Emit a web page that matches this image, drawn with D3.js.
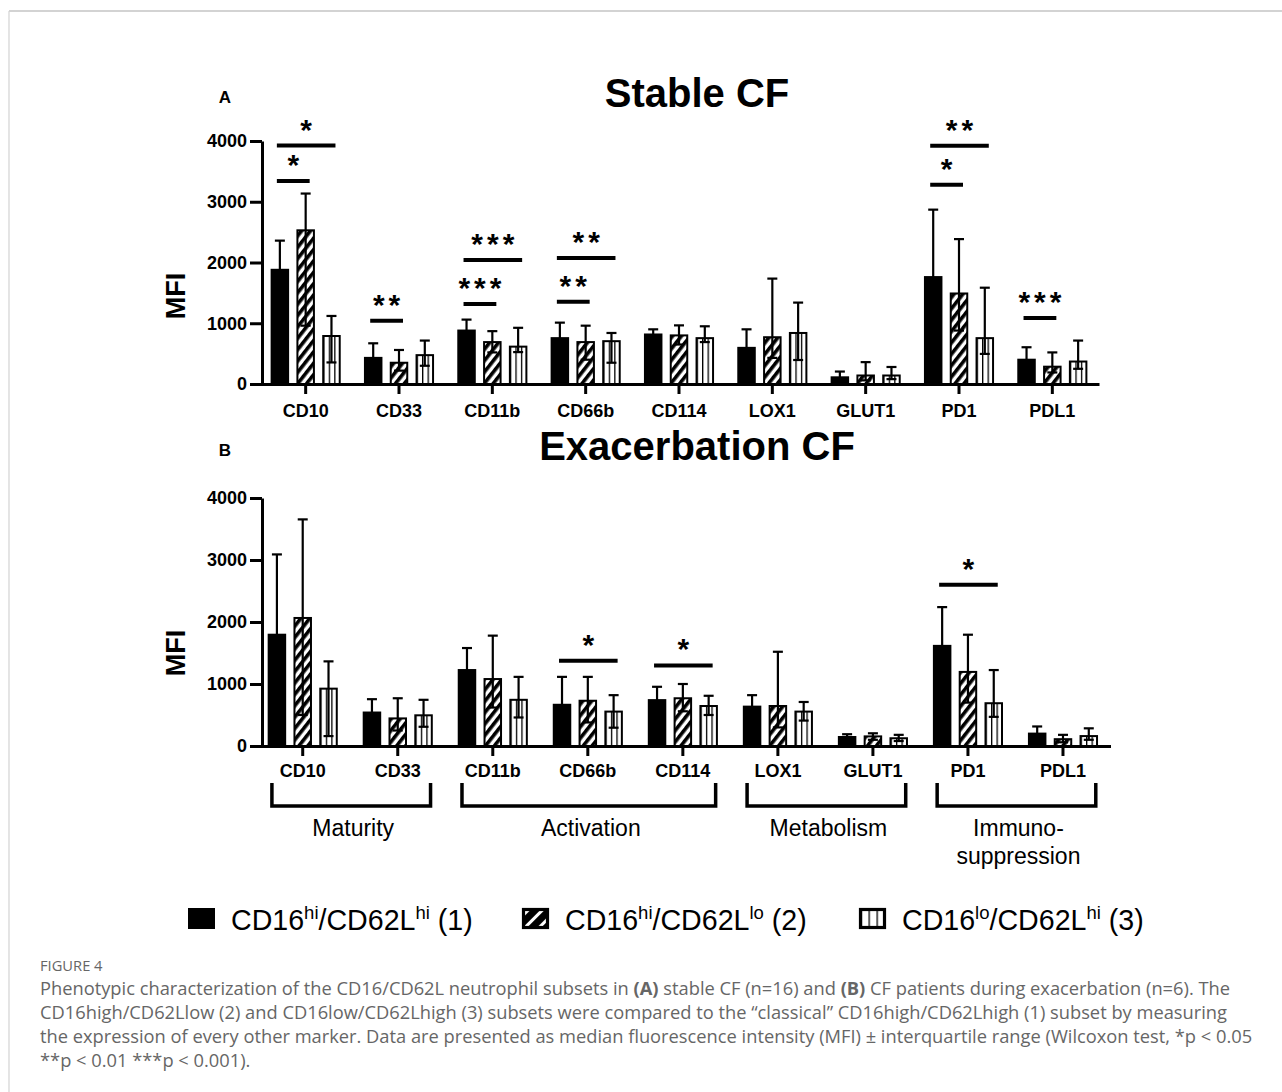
<!DOCTYPE html>
<html>
<head>
<meta charset="utf-8">
<script src="https://cdn.jsdelivr.net/npm/d3@7"></script>
<style>
body { margin: 0; background: #fff; }
svg { display: block; }
</style>
</head>
<body>
<div id="chart"></div>
<script>
// markers on the x axis
var markers = ["CD10", "CD33", "CD11b", "CD66b", "CD114", "LOX1", "GLUT1", "PD1", "PDL1"];
var yTicks = [0, 1000, 2000, 3000, 4000];

// Stable CF : median and interquartile limits per subset
var stableMed1 = [1880, 430, 880, 755, 815, 595, 110, 1760, 400];
var stableHi1  = [2360, 670, 1060, 1010, 900, 900, 205, 2870, 605];
var stableLo1  = [1450, 260, 720, 560, 740, 380, 50, 950, 260];
var stableMed2 = [2530, 350, 690, 690, 800, 770, 140, 1490, 285];
var stableHi2  = [3135, 560, 870, 960, 965, 1735, 360, 2385, 520];
var stableLo2  = [960, 220, 520, 400, 650, 430, 60, 880, 190];
var stableMed3 = [790, 475, 615, 705, 755, 840, 140, 755, 370];
var stableHi3  = [1120, 715, 925, 840, 950, 1340, 280, 1585, 715];
var stableLo3  = [355, 300, 525, 350, 690, 395, 80, 495, 250];

// Exacerbation CF
var exacMed1 = [1795, 540, 1225, 665, 740, 635, 145, 1615, 200];
var exacHi1  = [3090, 755, 1580, 1115, 955, 820, 190, 2240, 315];
var exacLo1  = [1100, 380, 900, 420, 560, 470, 100, 1150, 120];
var exacMed2 = [2065, 445, 1080, 730, 770, 645, 155, 1195, 110];
var exacHi2  = [3655, 770, 1780, 1115, 1000, 1520, 205, 1795, 180];
var exacLo2  = [500, 250, 620, 380, 560, 300, 100, 700, 60];
var exacMed3 = [925, 495, 745, 555, 645, 555, 125, 690, 160];
var exacHi3  = [1365, 745, 1115, 820, 810, 710, 180, 1225, 285];
var exacLo3  = [160, 310, 460, 295, 500, 410, 80, 470, 100];

// significance bars: marker, subsets compared, level (MFI), label
var stableSig = [
  ["CD10", 0, 1, 3340, "*"], ["CD10", 0, 2, 3925, "*"],
  ["CD33", 0, 1, 1040, "**"],
  ["CD11b", 0, 1, 1315, "***"], ["CD11b", 0, 2, 2040, "***"],
  ["CD66b", 0, 1, 1355, "**"], ["CD66b", 0, 2, 2075, "**"],
  ["PD1", 0, 1, 3280, "*"], ["PD1", 0, 2, 3920, "**"],
  ["PDL1", 0, 1, 1085, "***"]
];
var exacSig = [
  ["CD66b", 0, 2, 1375, "*"],
  ["CD114", 0, 2, 1300, "*"],
  ["PD1", 0, 2, 2600, "*"]
];

// functional groups under panel B
var groupNames = [["Maturity"], ["Activation"], ["Metabolism"], ["Immuno-", "suppression"]];
var groupFirst = ["CD10", "CD11b", "LOX1", "PD1"];
var groupLast  = ["CD33", "CD114", "GLUT1", "PDL1"];

var legendParts = [["CD16", "hi", "/CD62L", "hi", " (1)"], ["CD16", "hi", "/CD62L", "lo", " (2)"], ["CD16", "lo", "/CD62L", "hi", " (3)"]];

var font = "'Liberation Sans', Arial, sans-serif";

var svg = d3.select("#chart").append("svg")
  .attr("width", 1282).attr("height", 1092);

// patterns
var defs = svg.append("defs");
var hatch = defs.append("pattern").attr("id", "hatch")
  .attr("patternUnits", "userSpaceOnUse").attr("width", 7).attr("height", 7)
  .attr("patternTransform", "rotate(38)");
hatch.append("rect").attr("width", 7).attr("height", 7).attr("fill", "#fff");
hatch.append("rect").attr("width", 3.6).attr("height", 7).attr("fill", "#000");

var vstripe = defs.append("pattern").attr("id", "vstripe")
  .attr("patternUnits", "objectBoundingBox").attr("width", 1 / 3).attr("height", 1);
vstripe.append("rect").attr("width", 30).attr("height", 600).attr("fill", "#fff");
vstripe.append("rect").attr("width", 1.3).attr("height", 600).attr("fill", "#000");

var hatchLeg = defs.append("pattern").attr("id", "hatchLeg")
  .attr("patternUnits", "userSpaceOnUse").attr("width", 10).attr("height", 10)
  .attr("patternTransform", "translate(524,908) rotate(45)");
hatchLeg.append("rect").attr("width", 10).attr("height", 10).attr("fill", "#000");
hatchLeg.append("rect").attr("x", 3).attr("width", 3).attr("height", 10).attr("fill", "#fff");

var fills = ["#000", "url(#hatch)", "url(#vstripe)"];

// frame of the figure
svg.append("line").attr("x1", 9).attr("x2", 1282).attr("y1", 11).attr("y2", 11)
  .attr("stroke", "#d3d3d3").attr("stroke-width", 2);
svg.append("line").attr("x1", 9).attr("x2", 9).attr("y1", 11).attr("y2", 1092)
  .attr("stroke", "#d3d3d3").attr("stroke-width", 1.2);

function drawPanel(p) {
  var x = d3.scaleBand().domain(markers).range(p.xRange);
  var y = d3.scaleLinear().domain([0, 4000]).range(p.yRange);
  var off = d3.scalePoint().domain([0, 1, 2]).range([-25.8, 25.8]);
  var bw = 16.5;
  var cx = function (m, s) { return x(m) + x.bandwidth() / 2 + off(s); };
  var g = svg.append("g");

  g.append("text").attr("x", 697).attr("y", p.titleY)
    .attr("text-anchor", "middle").style("font", "bold 40px " + font)
    .text(p.title);
  g.append("text").attr("x", 225).attr("y", p.titleY - 4)
    .attr("text-anchor", "middle").style("font", "bold 17px " + font)
    .text(p.letter);
  g.append("text").attr("transform", "translate(185," + p.mfiY + ") rotate(-90)")
    .attr("text-anchor", "middle").style("font", "bold 27px " + font)
    .text("MFI");

  // bars
  for (var s = 0; s < 3; s++) {
    var rows = markers.map(function (m, i) {
      return { m: m, v: p.med[s][i], hi: p.hi[s][i], lo: p.lo[s][i], s: s };
    });
    g.selectAll(".bar" + s).data(rows).enter().append("rect")
      .attr("x", function (d) { return cx(d.m, d.s) - bw / 2; })
      .attr("y", function (d) { return y(d.v); })
      .attr("width", bw)
      .attr("height", function (d) { return y(0) - y(d.v); })
      .attr("fill", fills[s])
      .attr("stroke", "#000").attr("stroke-width", 2);

    var eb = g.selectAll(".err" + s).data(rows).enter().append("g")
      .attr("stroke", "#000").attr("stroke-width", 2.2);
    eb.append("line")
      .attr("x1", function (d) { return cx(d.m, d.s); })
      .attr("x2", function (d) { return cx(d.m, d.s); })
      .attr("y1", function (d) { return y(d.lo); })
      .attr("y2", function (d) { return y(d.hi); });
    eb.append("line")
      .attr("x1", function (d) { return cx(d.m, d.s) - 5; })
      .attr("x2", function (d) { return cx(d.m, d.s) + 5; })
      .attr("y1", function (d) { return y(d.hi); })
      .attr("y2", function (d) { return y(d.hi); });
    eb.append("line")
      .attr("x1", function (d) { return cx(d.m, d.s) - 5; })
      .attr("x2", function (d) { return cx(d.m, d.s) + 5; })
      .attr("y1", function (d) { return y(d.lo); })
      .attr("y2", function (d) { return y(d.lo); });
  }

  // axes
  var yAxis = g.append("g").attr("transform", "translate(262,0)")
    .call(d3.axisLeft(y).tickValues(yTicks).tickSize(12).tickSizeOuter(0)
      .tickPadding(3).tickFormat(d3.format("d")));
  var xAxis = g.append("g").attr("transform", "translate(0," + y(0) + ")")
    .call(d3.axisBottom(x).tickSize(10).tickSizeOuter(0).tickPadding(p.labelPad));
  [yAxis, xAxis].forEach(function (a) {
    a.selectAll("path, line").attr("stroke", "#000").attr("stroke-width", 3);
    a.selectAll("text").attr("fill", "#000").style("font", "bold 18px " + font);
  });

  // significance
  var sg = g.selectAll(".sig").data(p.sig).enter().append("g");
  sg.append("line")
    .attr("x1", function (d) { return cx(d[0], d[1]) - 3; })
    .attr("x2", function (d) { return cx(d[0], d[2]) + 4; })
    .attr("y1", function (d) { return y(d[3]); })
    .attr("y2", function (d) { return y(d[3]); })
    .attr("stroke", "#000").attr("stroke-width", 4);
  sg.append("text")
    .attr("x", function (d) { return (cx(d[0], d[1]) + cx(d[0], d[2])) / 2 + 2.5; })
    .attr("y", function (d) { return y(d[3]) - 6; })
    .attr("text-anchor", "middle")
    .style("font", "bold 30px " + font).style("letter-spacing", "4px")
    .text(function (d) { return d[4]; });

  return { x: x, cx: cx, y: y };
}

drawPanel({
  title: "Stable CF", letter: "A", titleY: 107, mfiY: 296,
  xRange: [259, 1099], yRange: [384, 141], labelPad: 10,
  med: [stableMed1, stableMed2, stableMed3],
  hi: [stableHi1, stableHi2, stableHi3],
  lo: [stableLo1, stableLo2, stableLo3],
  sig: stableSig
});
var pb = drawPanel({
  title: "Exacerbation CF", letter: "B", titleY: 460, mfiY: 653,
  xRange: [255.2, 1110.5], yRange: [746, 498], labelPad: 8,
  med: [exacMed1, exacMed2, exacMed3],
  hi: [exacHi1, exacHi2, exacHi3],
  lo: [exacLo1, exacLo2, exacLo3],
  sig: exacSig
});

// group brackets
var gb = svg.selectAll(".grp").data(groupNames).enter().append("g");
gb.each(function (d, i) {
  var l = pb.cx(groupFirst[i], 0) - 5, r = pb.cx(groupLast[i], 2) + 7;
  var sel = d3.select(this);
  sel.append("path")
    .attr("d", "M" + l + ",783V806H" + r + "V783")
    .attr("fill", "none").attr("stroke", "#000").attr("stroke-width", 3.5);
  var t = sel.append("text")
    .attr("text-anchor", "middle").style("font", "23px " + font).attr("fill", "#000");
  d.forEach(function (line, k) {
    t.append("tspan").attr("x", (l + r) / 2 + 2).attr("y", 836 + k * 28).text(line);
  });
});

// legend
var legX = [188, 522, 859];
var lg = svg.selectAll(".leg").data(legendParts).enter().append("g");
lg.append("rect")
  .attr("x", function (d, i) { return legX[i] + (i === 0 ? 0 : 1.5); })
  .attr("y", function (d, i) { return i === 0 ? 908 : 909.5; })
  .attr("width", function (d, i) { return i === 0 ? 27 : 24; })
  .attr("height", function (d, i) { return i === 0 ? 21 : 18; })
  .attr("fill", function (d, i) { return ["#000", "url(#hatchLeg)", "url(#vstripe)"][i]; })
  .attr("stroke", "#000").attr("stroke-width", function (d, i) { return i === 0 ? 0 : 3.2; });
lg.each(function (d, i) {
  var t = d3.select(this).append("text")
    .attr("x", legX[i] + 43).attr("y", 930)
    .style("font", "28.6px " + font).attr("fill", "#000");
  t.append("tspan").text(d[0]);
  t.append("tspan").attr("dy", -11).style("font-size", "18.5px").text(d[1]);
  t.append("tspan").attr("dy", 11).text(d[2]);
  t.append("tspan").attr("dy", -11).style("font-size", "18.5px").text(d[3]);
  t.append("tspan").attr("dy", 11).text(d[4]);
});

// caption
var capFont = "'Open Sans', 'Noto Sans', sans-serif";
svg.append("text").attr("x", 40).attr("y", 971)
  .style("font", "14.7px " + capFont).attr("fill", "#666").text("FIGURE 4");
var capLines = [
  [["Phenotypic characterization of the CD16/CD62L neutrophil subsets in ", 0], ["(A)", 1], [" stable CF (n=16) and ", 0], ["(B)", 1], [" CF patients during exacerbation (n=6). The", 0]],
  [["CD16high/CD62Llow (2) and CD16low/CD62Lhigh (3) subsets were compared to the \u201cclassical\u201d CD16high/CD62Lhigh (1) subset by measuring", 0]],
  [["the expression of every other marker. Data are presented as median fluorescence intensity (MFI) \u00b1 interquartile range (Wilcoxon test, *p < 0.05", 0]],
  [["**p < 0.01 ***p < 0.001).", 0]]
];
capLines.forEach(function (line, k) {
  var t = svg.append("text").attr("x", 40).attr("y", 995 + k * 24)
    .style("font", "18.3px " + capFont).attr("fill", "#666");
  line.forEach(function (part) {
    t.append("tspan").style("font-weight", part[1] ? 700 : 400).text(part[0]);
  });
});
</script>
</body>
</html>
